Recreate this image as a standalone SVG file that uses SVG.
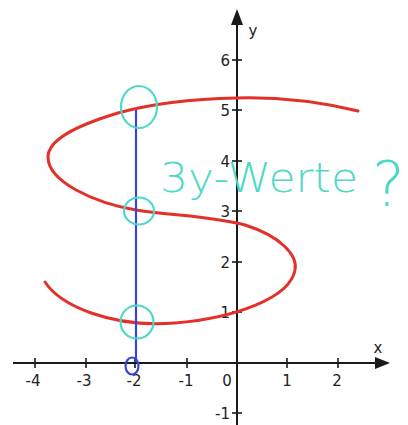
<svg xmlns="http://www.w3.org/2000/svg" width="408" height="425" viewBox="0 0 408 425">
<defs>
<style>
.ax{stroke:#1a1a1a;stroke-width:2;fill:none}
.tk{stroke:#1a1a1a;stroke-width:1.6}
.lbl{font-family:"DejaVu Sans",sans-serif;font-size:15px;fill:#222}
.red{stroke:#e3302a;stroke-width:3;fill:none;stroke-linecap:round}
.cy{stroke:#4fd8c6;stroke-width:2.2;fill:none}
.bl{stroke:#3546d8;stroke-width:2.2;fill:none}
.hand{font-family:"DejaVu Sans",sans-serif;fill:#4fd8c6;font-weight:200}
</style>
</defs>
<rect width="408" height="425" fill="#fff"/>
<g id="axes">
<line class="ax" x1="13" y1="363" x2="382" y2="363"/>
<polygon points="390,363 375,357 375,369" fill="#1a1a1a"/>
<line class="ax" x1="237" y1="425" x2="237" y2="18"/>
<polygon points="237,9 231,25 243,25" fill="#1a1a1a"/>
<g id="xticks">
<line class="tk" x1="35" y1="358" x2="35" y2="368"/>
<line class="tk" x1="86" y1="358" x2="86" y2="368"/>
<line class="tk" x1="135" y1="358" x2="135" y2="368"/>
<line class="tk" x1="187" y1="358" x2="187" y2="368"/>
<line class="tk" x1="287" y1="358" x2="287" y2="368"/>
<line class="tk" x1="338" y1="358" x2="338" y2="368"/>
</g>
<g id="yticks">
<line class="tk" x1="232" y1="60" x2="242" y2="60"/>
<line class="tk" x1="232" y1="110" x2="242" y2="110"/>
<line class="tk" x1="232" y1="161" x2="242" y2="161"/>
<line class="tk" x1="232" y1="211" x2="242" y2="211"/>
<line class="tk" x1="232" y1="262" x2="242" y2="262"/>
<line class="tk" x1="232" y1="312" x2="242" y2="312"/>
<line class="tk" x1="232" y1="413" x2="242" y2="413"/>
</g>
<g class="lbl" text-anchor="middle">
<text x="33" y="386">-4</text>
<text x="84" y="386">-3</text>
<text x="134" y="386">-2</text>
<text x="186" y="386">-1</text>
<text x="227" y="386">0</text>
<text x="287" y="386">1</text>
<text x="337" y="386">2</text>
<text x="378" y="353">x</text>
<text x="253" y="36">y</text>
</g>
<g class="lbl" text-anchor="end">
<text x="230" y="66">6</text>
<text x="230" y="116">5</text>
<text x="230" y="167">4</text>
<text x="230" y="217">3</text>
<text x="230" y="268">2</text>
<text x="230" y="318">1</text>
<text x="230" y="419">-1</text>
</g>
</g>
<g id="curve">
<path class="red" d="M358,111 C320,102 275,97 237,98 C190,99 150,104 118,113 C75,126 48,140 48,157 C48,182 95,203 136,210 C175,216 210,216 245,225 C280,236 298,255 295,270 C290,298 235,318 175,323 C110,328 60,305 45,282"/>
</g>
<g id="vertical-line">
<line class="bl" x1="136" y1="110" x2="136" y2="362"/>
<ellipse class="bl" cx="132" cy="366" rx="6.5" ry="8.5"/>
</g>
<g id="markers">
<ellipse class="cy" cx="139" cy="107" rx="18" ry="21"/>
<ellipse class="cy" cx="139" cy="211" rx="15" ry="13.5"/>
<circle class="cy" cx="137" cy="322" r="16.5"/>
</g>
<g id="annotation">
<text class="hand" x="160" y="192" font-size="40" textLength="198" lengthAdjust="spacingAndGlyphs">3y-Werte</text>
<text class="hand" x="372" y="206" font-size="62">?</text>
</g>
</svg>
